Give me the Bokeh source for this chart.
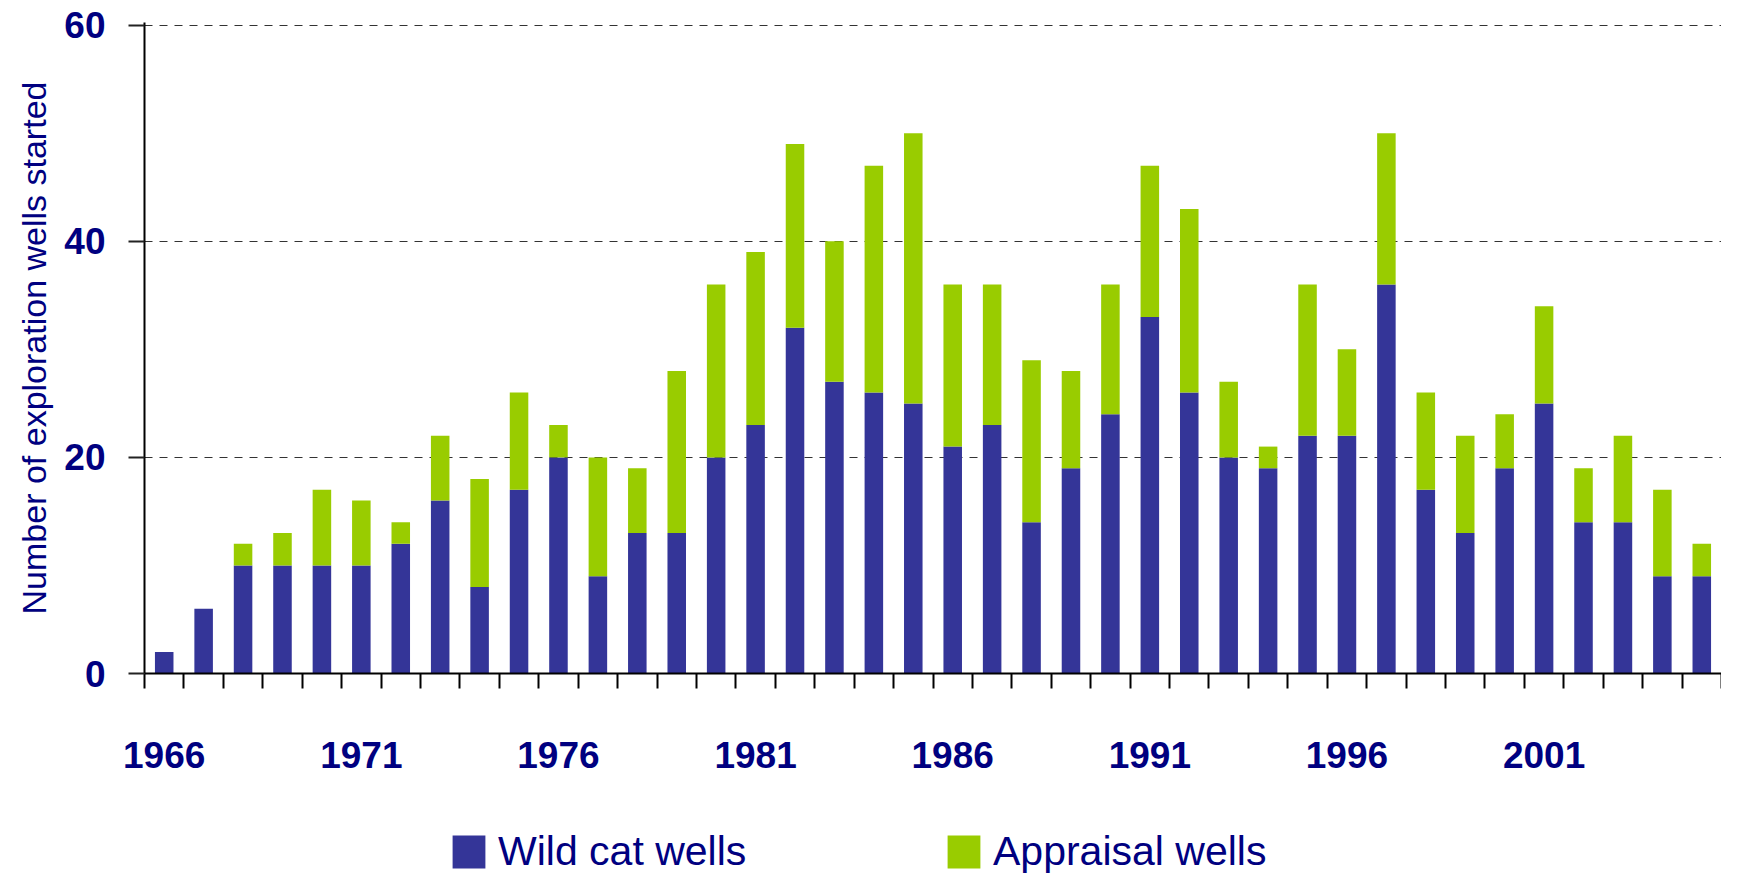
from bokeh.plotting import figure
from bokeh.models import Range1d, FixedTicker, Legend, LegendItem
from bokeh.layouts import column
from bokeh.embed import file_html
from bokeh.resources import INLINE

years = list(range(1966, 2006))
wildcat = [2, 6, 10, 10, 10, 10, 12, 16, 8, 17,
           20, 9, 13, 13, 20, 23, 32, 27, 26, 25,
           21, 23, 14, 19, 24, 33, 26, 20, 19, 22,
           22, 36, 17, 13, 19, 25, 14, 14, 9, 9]
appraisal = [0, 0, 2, 3, 7, 6, 2, 6, 10, 9,
             3, 11, 6, 15, 16, 16, 17, 13, 21, 25,
             15, 13, 15, 9, 12, 14, 17, 7, 2, 14,
             8, 14, 9, 9, 5, 9, 5, 8, 8, 3]
tick_years = [1966, 1971, 1976, 1981, 1986, 1991, 1996, 2001]
y_ticks = [0, 20, 40, 60]
series = ["wildcat", "appraisal"]
labels = ["Wild cat wells", "Appraisal wells"]
colors = ["#343598", "#99CC00"]

NAVY = "#000080"
FONT = "Liberation Sans"

source = dict(year=years, wildcat=wildcat, appraisal=appraisal)

p = figure(width=1721, height=785, output_backend="svg", toolbar_location=None,
           x_range=Range1d(years[0] - 0.5, years[-1] + 0.5),
           y_range=Range1d(0, 60.25),
           min_border_left=144, min_border_top=22, min_border_bottom=112,
           min_border_right=0)
p.outline_line_color = None
p.background_fill_color = "white"

rs = p.vbar_stack(series, x="year", width=0.47, color=colors, line_color=None,
                  source=source)

# axes
xa = p.xaxis[0]
xa.ticker = FixedTicker(ticks=tick_years,
                        minor_ticks=[y - 0.5 for y in years] + [years[-1] + 0.5])
xa.major_tick_line_color = None
xa.major_tick_out = 0
xa.major_tick_in = 0
xa.minor_tick_out = 15
xa.minor_tick_in = 0
xa.minor_tick_line_color = "black"
xa.minor_tick_line_width = 2
xa.axis_line_color = "black"
xa.axis_line_width = 2
xa.major_label_standoff = 53
xa.major_label_text_font = FONT
xa.major_label_text_font_style = "bold"
xa.major_label_text_font_size = "37px"
xa.major_label_text_color = NAVY

ya = p.yaxis[0]
ya.ticker = FixedTicker(ticks=y_ticks, minor_ticks=[])
ya.major_tick_out = 16
ya.major_tick_in = 0
ya.major_tick_line_width = 2
ya.major_tick_line_color = "#222222"
ya.axis_line_color = "black"
ya.axis_line_width = 2
ya.major_label_standoff = 23
ya.major_label_text_font = FONT
ya.major_label_text_font_style = "bold"
ya.major_label_text_font_size = "37px"
ya.major_label_text_color = NAVY
ya.axis_label = "Number of exploration wells started"
ya.axis_label_text_font = FONT
ya.axis_label_text_font_style = "normal"
ya.axis_label_text_font_size = "34px"
ya.axis_label_text_color = NAVY
ya.axis_label_standoff = 8

p.xgrid.grid_line_color = None
p.ygrid.grid_line_color = "#333333"
p.ygrid.grid_line_dash = "8 7"
p.ygrid.grid_line_width = 1.2

# legend strip below the chart (its renderers are hidden; only the legend shows)
pl = figure(width=1721, height=90, output_backend="svg", toolbar_location=None,
            x_axis_location=None, y_axis_location=None,
            x_range=Range1d(years[0] - 0.5, years[-1] + 0.5),
            y_range=Range1d(0, 60),
            min_border_left=0, min_border_right=0, min_border_top=0,
            min_border_bottom=0)
pl.outline_line_color = None
pl.grid.grid_line_color = None
lr = pl.vbar_stack(series, x="year", width=0.47, color=colors, line_color=None,
                   source=source)
for r in lr:
    r.visible = False
legend = Legend(items=[LegendItem(label=labels[i], renderers=[lr[i]]) for i in range(2)],
                orientation="horizontal", location=(304, 0),
                glyph_width=41, glyph_height=41, label_standoff=9,
                label_width=445, spacing=0, padding=0, margin=0,
                border_line_color=None, background_fill_alpha=0,
                inactive_fill_alpha=0,
                label_text_font=FONT, label_text_font_size="41px",
                label_text_color=NAVY)
pl.add_layout(legend, "center")

layout = column(p, pl, spacing=0)
open("out.html", "w").write(file_html(layout, INLINE))
